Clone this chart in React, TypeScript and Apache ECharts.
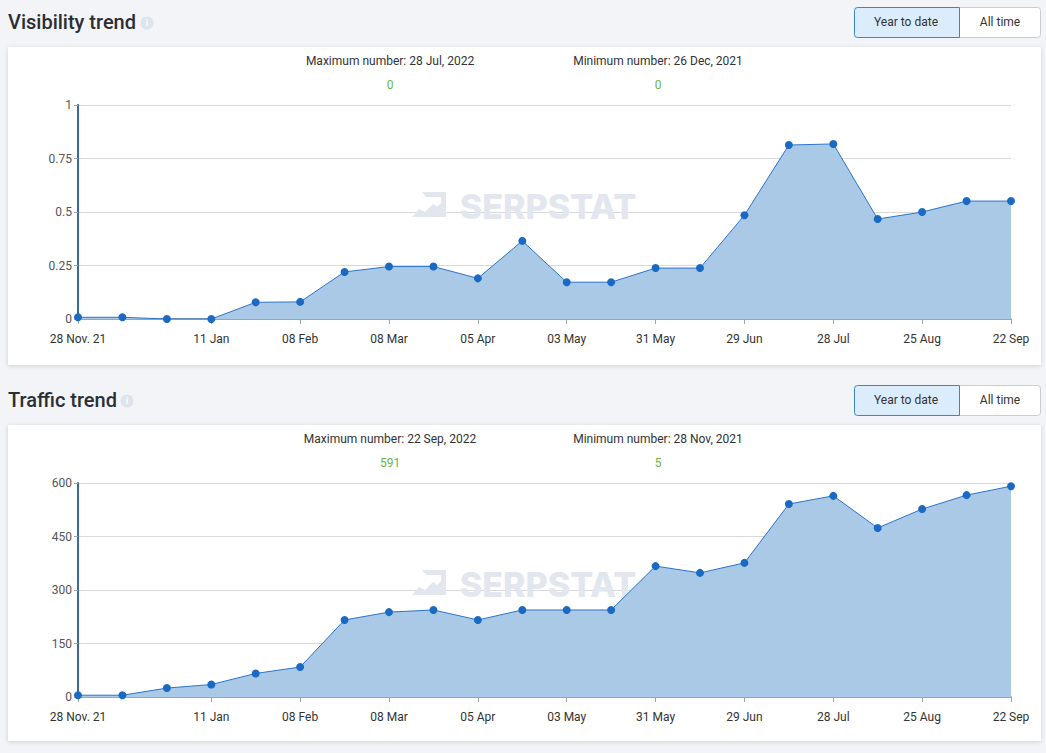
import React, { useEffect, useRef } from "react";
import * as echarts from "echarts";

// Biweekly snapshot dates
const dates = [
  "28 Nov. 21", "12 Dec", "26 Dec", "11 Jan", "25 Jan", "08 Feb", "22 Feb", "08 Mar",
  "22 Mar", "05 Apr", "19 Apr", "03 May", "17 May", "31 May", "14 Jun", "29 Jun",
  "14 Jul", "28 Jul", "11 Aug", "25 Aug", "08 Sep", "22 Sep",
];
// Indices of dates that get a tick and a label
const labelledIdx = [0, 3, 5, 7, 9, 11, 13, 15, 17, 19, 21];

const visibility = [
  0.008, 0.008, 0, 0, 0.078, 0.08, 0.22, 0.245, 0.245, 0.19, 0.365,
  0.172, 0.172, 0.238, 0.238, 0.485, 0.813, 0.818, 0.467, 0.5, 0.551, 0.551,
];
const traffic = [
  5, 5, 25, 35, 66, 84, 216, 238, 244, 216, 244,
  244, 244, 367, 348, 376, 541, 564, 474, 527, 566, 591,
];

const visibilityTicks = { min: 0, max: 1, interval: 0.25 };
const trafficTicks = { min: 0, max: 600, interval: 150 };

const visibilityStats = { maxLabel: "Maximum number: 28 Jul, 2022", maxValue: "0", minLabel: "Minimum number: 26 Dec, 2021", minValue: "0" };
const trafficStats = { maxLabel: "Maximum number: 22 Sep, 2022", maxValue: "591", minLabel: "Minimum number: 28 Nov, 2021", minValue: "5" };

const FONT = "Roboto, 'Noto Sans', sans-serif";
// Brand mark: top bar, right column and a zigzag trend line base
const LOGO_D =
  "M10 3 L34 3 L34 28 L0 28 L7 20 L13 23 L21 15 L25 18 L29 14 L29 8 L14 8 Z";

function panel(top: number, title: string, iconX: number, cardH: number, stats: typeof trafficStats, z = -50): any[] {
  const cardY = top + 40;
  return [
    { type: "text", z, x: 8, y: top + 5, style: { text: title, font: `500 20px ${FONT}`, fill: "#2b2e36" } },
    { type: "circle", z, shape: { cx: iconX, cy: top + 16, r: 6.5 }, style: { fill: "#dfe3ec" } },
    { type: "text", z: z + 1, x: iconX, y: top + 16, style: { text: "i", font: `bold 9px ${FONT}`, fill: "#fff", align: "center", verticalAlign: "middle" } },
    { type: "rect", z, shape: { x: 959.5, y: top + 0.5, width: 81, height: 30, r: [0, 3, 3, 0] }, style: { fill: "#fff", stroke: "#c9ccd1", lineWidth: 1 } },
    { type: "rect", z: z + 1, shape: { x: 854.5, y: top + 0.5, width: 105, height: 30, r: [3, 0, 0, 3] }, style: { fill: "#dbedfc", stroke: "#3d86c6", lineWidth: 1 } },
    { type: "text", z: z + 2, x: 906, y: top + 15, style: { text: "Year to date", font: `12px ${FONT}`, fill: "#333", align: "center", verticalAlign: "middle" } },
    { type: "text", z: z + 2, x: 1000, y: top + 15, style: { text: "All time", font: `12px ${FONT}`, fill: "#333", align: "center", verticalAlign: "middle" } },
    { type: "rect", z, shape: { x: 8, y: cardY, width: 1033, height: cardH }, style: { fill: "#fff", shadowBlur: 4, shadowOffsetY: 1, shadowColor: "rgba(0,0,0,0.15)" } },
    { type: "text", z: z + 1, x: 390, y: cardY + 14, style: { text: stats.maxLabel, font: `12px ${FONT}`, fill: "#333", align: "center", verticalAlign: "middle" } },
    { type: "text", z: z + 1, x: 390, y: cardY + 38, style: { text: stats.maxValue, font: `12px ${FONT}`, fill: "#6cb33f", align: "center", verticalAlign: "middle" } },
    { type: "text", z: z + 1, x: 658, y: cardY + 14, style: { text: stats.minLabel, font: `12px ${FONT}`, fill: "#333", align: "center", verticalAlign: "middle" } },
    { type: "text", z: z + 1, x: 658, y: cardY + 38, style: { text: stats.minValue, font: `12px ${FONT}`, fill: "#6cb33f", align: "center", verticalAlign: "middle" } },
  ];
}

function watermark(cy: number): any[] {
  return [
    { type: "serpLogo", z: 1, x: 412, y: cy - 16, scaleX: 1, scaleY: 1, style: { fill: "#e2e6ee" } },
    { type: "text", z: 1, x: 548, y: cy + 1, style: { text: "SERPSTAT", font: `800 34px Inter, ${FONT}`, fill: "#e2e6ee", align: "center", verticalAlign: "middle" } },
  ];
}

function xAxis(gridIndex: number) {
  const show = (i: number) => labelledIdx.includes(i);
  return {
    type: "category",
    gridIndex,
    data: dates,
    boundaryGap: false,
    axisLine: { lineStyle: { color: "#a0a4a8", width: 2 } },
    axisTick: { show: true, length: 5, interval: show, lineStyle: { color: "#a0a4a8" } },
    axisLabel: { interval: show, color: "#333", fontSize: 12, fontFamily: FONT, margin: 14 },
    splitLine: { show: false },
  };
}

function yAxis(gridIndex: number, t: { min: number; max: number; interval: number }) {
  return {
    type: "value",
    gridIndex,
    ...t,
    axisLine: { show: true, lineStyle: { color: "#3a6a98", width: 2 } },
    axisTick: { show: true, length: 4, lineStyle: { color: "#a0a4a8" } },
    axisLabel: { color: "#555", fontSize: 12, fontFamily: FONT, margin: 6 },
    splitLine: { lineStyle: { color: "#d9d9d9", width: 1 } },
  };
}

function series(data: number[], idx: number) {
  return {
    type: "line",
    xAxisIndex: idx,
    yAxisIndex: idx,
    data,
    symbol: "circle",
    symbolSize: 8,
    showAllSymbol: true,
    lineStyle: { color: "#2a74c9", width: 1 },
    itemStyle: { color: "#1a6ac4" },
    areaStyle: { color: "#aac9e6", opacity: 1 },
    z: 3,
  };
}

export default function App() {
  const ref = useRef<HTMLDivElement>(null);
  useEffect(() => {
    if (!ref.current) return;
    echarts.graphic.registerShape("serpLogo", echarts.graphic.extendPath(LOGO_D, {}) as any);
    const chart = echarts.init(ref.current, undefined, { renderer: "svg" });
    chart.setOption({
      animation: false,
      backgroundColor: "#f3f4f8",
      grid: [
        { left: 78, right: 35, top: 105, height: 214 },
        { left: 78, right: 35, top: 483, height: 214 },
      ],
      xAxis: [xAxis(0), xAxis(1)],
      yAxis: [yAxis(0, visibilityTicks), yAxis(1, trafficTicks)],
      series: [series(visibility, 0), series(traffic, 1)],
      graphic: [
        ...panel(7, "Visibility trend", 147, 318, visibilityStats),
        ...panel(385, "Traffic trend", 127, 316, trafficStats),
        ...watermark(205),
        ...watermark(583),
      ],
    });
    return () => chart.dispose();
  }, []);
  return (
    <div
      ref={ref}
      style={{ position: "absolute", left: 0, top: 0, width: 1046, height: 753 }}
    />
  );
}
